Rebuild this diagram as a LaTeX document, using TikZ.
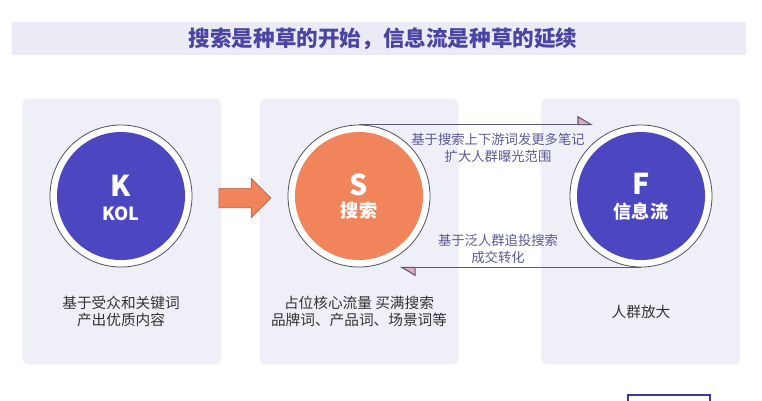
\documentclass[tikz,border=0pt]{standalone}
\usepackage{fontspec}
\setmainfont{Noto Sans CJK SC}
\usepackage{xcolor}
\usetikzlibrary{arrows.meta,shapes.arrows}
\definecolor{barbg}{HTML}{ECEBF5}
\definecolor{panelbg}{HTML}{EFEFF7}
\definecolor{titleink}{HTML}{4A44A2}
\definecolor{violet}{HTML}{4C47C1}
\definecolor{coral}{HTML}{F2845C}
\definecolor{ringink}{HTML}{50505E}
\definecolor{lblink}{HTML}{5B5994}
\definecolor{textink}{HTML}{333333}
\definecolor{lineink}{HTML}{5A5A78}
\definecolor{headpink}{HTML}{E3A9BE}
\tikzset{
  panel/.style={rectangle, rounded corners=4pt, fill=panelbg, draw=none,
                minimum width=149pt, minimum height=199.5pt},
  ring/.style={circle, draw=ringink, line width=0.6pt, fill=white, minimum size=106.5pt, inner sep=0pt},
  disc/.style={circle, draw=none, minimum size=96pt, inner sep=0pt},
  bigletter/.style={text=white, font=\fontsize{21.5pt}{24pt}\selectfont\bfseries, inner sep=0pt},
  discname/.style={text=white, font=\fontsize{13.6pt}{16pt}\selectfont\bfseries, inner sep=0pt},
  note/.style={text=textink, align=center, font=\fontsize{11pt}{12.9pt}\selectfont},
  lbl/.style={text=lblink, align=center, font=\fontsize{10pt}{12.8pt}\selectfont},
  flow/.style={-{Triangle[left, length=11pt, width=13pt, fill=headpink]}, draw=lineink, line width=0.8pt},
}
\begin{document}
\begin{tikzpicture}[x=0.75pt, y=-0.75pt]
\useasboundingbox (0,0) rectangle (762,400);
\clip (0,0) rectangle (762,400);
% title
\fill[barbg] (12,22) rectangle (746,55);
\node[text=titleink, font=\fontsize{16.2pt}{18pt}\selectfont\bfseries] (title) at (383,38.5)
  {搜索是种草的开始，信息流是种草的延续};
% panels
\node[panel] (kPanel) at (122,231.5) {};
\node[panel] (sPanel) at (359,231.5) {};
\node[panel] (fPanel) at (640.5,231.5) {};
% circles
\node[ring] (kRing) at (121,196) {};
\node[disc, fill=violet] (kDisc) at (121,196) {};
\node[bigletter] (kLetter) at (121,186) {K};
\node[discname] (kName) at (121,214) {KOL};
\node[ring] (sRing) at (359,196) {};
\node[disc, fill=coral] (sDisc) at (359,196) {};
\node[bigletter] (sLetter) at (359,185) {S};
\node[discname] (sName) at (359,211) {搜索};
\node[ring] (fRing) at (641,196) {};
\node[disc, fill=violet] (fDisc) at (641,196) {};
\node[bigletter] (fLetter) at (641,184) {F};
\node[discname] (fName) at (641,212) {信息流};
% K to S
\node[single arrow, draw=coral!75!black, line width=0.5pt, fill=coral, minimum height=39pt,
      inner sep=7pt, single arrow head extend=7.5pt] (ksArrow) at (240,198) {};
% S <-> F
\coordinate (upEnd) at (593,125);
\coordinate (downEnd) at (400,267);
\draw[flow] (sRing.north) -- (sRing.north -| upEnd);
\draw[flow] (fRing.south) -- (fRing.south -| downEnd);
\node[lbl] (upLbl) at (498,147.5) {基于搜索上下游词发更多笔记\\扩大人群曝光范围};
\node[lbl] (downLbl) at (498,248.5) {基于泛人群追投搜索\\成交转化};
% panel notes
\node[note] (kNote) at (121,311.5) {基于受众和关键词\\产出优质内容};
\node[note] (sNote) at (359,311.5) {占位核心流量 买满搜索\\品牌词、产品词、场景词等};
\node[note] (fNote) at (641,312) {人群放大};
% cut-off button
\draw[violet!80!black, line width=1.5pt, fill=white] (628,395) rectangle (710,420);
\end{tikzpicture}
\end{document}
